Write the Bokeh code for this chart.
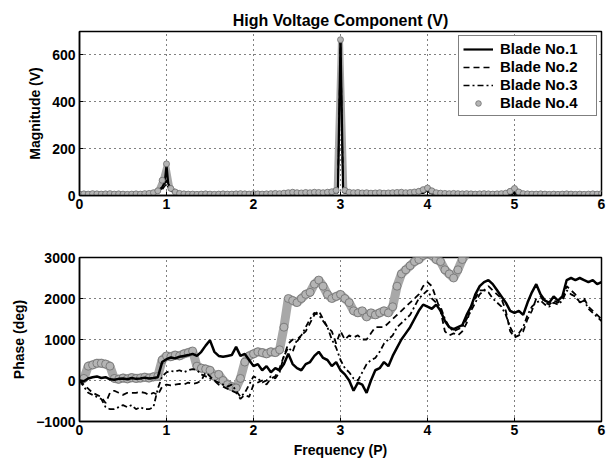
import numpy as np
from bokeh.plotting import figure
from bokeh.layouts import column
from bokeh.models import Range1d, FixedTicker, Label
from bokeh.embed import file_html
from bokeh.resources import INLINE

nan = float("nan")

# ---------------- data ----------------
x_ticks = [0, 1, 2, 3, 4, 5, 6]
mag_ticks = [0, 200, 400, 600]
phase_ticks = [-1000, 0, 1000, 2000, 3000]
series_names = ["Blade No.1", "Blade No.2", "Blade No.3", "Blade No.4"]

# magnitude, blades 1-3
freq_mag = [0.0, 0.1, 0.2, 0.3, 0.4, 0.5, 0.6, 0.7, 0.8, 0.85, 0.9, 0.95, 0.98, 1.0, 1.02, 1.05, 1.1, 1.15,
            1.2, 1.3, 1.4, 1.5, 1.6, 1.7, 1.8, 1.9, 2.0, 2.1, 2.2, 2.3, 2.4, 2.5, 2.6, 2.7, 2.8, 2.9,
            2.97, 3.0, 3.03, 3.1, 3.2, 3.3, 3.4, 3.5, 3.6, 3.7, 3.8, 3.9, 3.97, 4.0, 4.03,
            4.1, 4.2, 4.3, 4.4, 4.5, 4.6, 4.7, 4.8, 4.9, 4.97, 5.0, 5.03,
            5.1, 5.2, 5.3, 5.4, 5.5, 5.6, 5.7, 5.8, 5.9, 6.0]
mag_b1 = [5, 6, 7, 6, 5, 5, 6, 5, 8, 12, 20, 35, 55, 130, 50, 30, 15, 8,
          6, 5, 5, 6, 5, 5, 6, 7, 8, 6, 5, 6, 7, 8, 12, 10, 9, 11,
          15, 665, 15, 10, 9, 8, 10, 7, 8, 9, 10, 12, 15, 28, 12,
          8, 7, 6, 6, 7, 6, 5, 6, 5, 6, 12, 6,
          5, 4, 4, 5, 4, 4, 3, 4, 4, 5]
mag_b2 = [4, 5, 6, 5, 6, 4, 5, 6, 7, 10, 18, 30, 45, 65, 40, 25, 12, 7,
          5, 6, 4, 5, 6, 4, 5, 6, 7, 5, 6, 5, 6, 9, 10, 11, 8, 10,
          14, 660, 14, 9, 8, 9, 8, 8, 7, 8, 9, 10, 12, 20, 10,
          7, 6, 7, 5, 6, 5, 6, 5, 6, 5, 10, 5,
          4, 5, 4, 4, 5, 3, 4, 3, 4, 4]
mag_b3 = [3, 4, 5, 5, 4, 5, 4, 5, 6, 9, 15, 25, 40, 50, 35, 20, 10, 6,
          4, 5, 5, 4, 5, 5, 4, 5, 6, 6, 5, 4, 5, 7, 9, 9, 8, 9,
          12, 655, 12, 8, 7, 7, 9, 6, 7, 7, 8, 9, 11, 18, 9,
          6, 5, 6, 5, 5, 4, 5, 4, 5, 4, 9, 4,
          4, 3, 4, 3, 4, 3, 3, 3, 4, 3]
# magnitude, blade 4 (markers), sampled every 0.05 P
mag_b4 = [6, 7, 6, 8, 7, 6, 7, 8, 6, 7, 6, 5, 6, 7, 6, 8, 9,
          12, 20, 65, 135, 30, 15, 9,
          7, 6, 6, 5, 6, 7, 6, 5, 6, 7, 6, 6, 7, 8, 7, 6, 8, 7, 6, 7, 8, 9, 8, 10, 12, 14, 12, 11, 13, 12, 14, 13, 12, 14, 16,
          22, 665, 22, 14,
          12, 13, 11, 12, 10, 11, 12, 10, 11, 12, 13, 14, 12, 13, 15, 18,
          25, 32, 20, 12,
          10, 9, 8, 9, 8, 7, 8, 7, 6, 7, 8, 7, 6, 7, 8, 10,
          18, 30, 15, 8,
          7, 6, 6, 7, 6, 5, 6, 5, 6, 7, 6, 5, 6, 5, 6, 7, 6, 8]

# phase, all blades, sampled every 0.05 P
phase_b1 = [0, -20, 50, 80, 100, 60, 80, 30, 20, 40,
            50, 30, 60, 40, 50, 70, 50, 60, 80, 450,
            520, 560, 540, 580, 600, 620, 650, 600, 700, 850,
            980, 700, 600, 580, 600, 620, 820, 600, 650, 500,
            350, 400, 250, 350, 200, 300, 250, 400, 650, 400,
            300, 250, 400, 450, 600, 700, 550, 500, 350, 450,
            250, 150, 0, -250, -50, -100, -300, 0, 250, 300,
            450, 350, 600, 800, 1000, 1150, 1300, 1500, 1700, 1850,
            1800, 1750, 1850, 1700, 1450, 1300, 1250, 1300, 1350, 1600,
            1800, 2100, 2300, 2400, 2450, 2350, 2200, 2050, 1900, 1700,
            1650, 1700, 1600, 1900, 2150, 2350, 2100, 1950, 1900, 2050,
            1950, 2050, 2450, 2500, 2450, 2500, 2450, 2400, 2450, 2350,
            2400]
phase_b2 = [0, -100, -200, -300, -350, -400, -550, -300, -250, -300,
            -350, -300, -300, -300, -280, -300, -350, -300, -350, -150,
            -100, -120, -100, -80, -100, -50, -80, -60, 0, 200,
            100, 0, -100, -150, -200, -250, -300, -450, -350, -400,
            -100, -50, 0, -100, 50, 100, 300, 600, 900, 1000,
            950, 1100, 1200, 1400, 1600, 1700, 1500, 1300, 1200, 900,
            1200, 1000, 1100, 1050, 1100, 1000, 1000, 1150, 1300, 1300,
            1300, 1400, 1500, 1600, 1700, 1800, 1900, 2000, 2100, 2300,
            2400, 2300, 2000, 1700, 1200, 1100, 1150, 1100, 1200, 1400,
            1800, 2000, 2200, 2200, 2300, 2200, 2100, 2000, 1700, 1200,
            1050, 1100, 1200, 1500, 1700, 2000, 2050, 1900, 1850, 1950,
            1900, 2000, 2300, 2200, 2100, 1900, 2000, 1800, 1700, 1600,
            1500]
phase_b3 = [0, -150, -300, -350, -400, -450, -650, -700, -700, -650,
            -600, -650, -600, -700, -650, -700, -700, -650, -200, 100,
            200, 230, 220, 250, 200, 250, 280, 250, 150, 100,
            50, 0, -50, -100, -150, -100, -250, -400, -300, -100,
            100, 50, -50, 0, 100, 50, 200, 600, 800, 700,
            1000, 1100, 1300, 1500, 1650, 1600, 1450, 1300, 1000, 800,
            500, 300, 200, 50, 0, 200, 400, 500, 550, 700,
            900, 1000, 1100, 1300, 1400, 1500, 1600, 1800, 2000, 2100,
            2200, 2000, 1900, 1800, 1500, 1300, 1200, 1250, 1300, 1500,
            1700, 1900, 2100, 2200, 2150, 2000, 1900, 1800, 1600, 1300,
            1100, 1150, 1300, 1600, 1800, 1900, 1950, 1850, 1800, 1900,
            1850, 1950, 2200, 2100, 2050, 1900, 1950, 1750, 1650, 1550,
            1450]
phase_b4 = [0, 50, 350, 380, 420, 420, 400, 350, 50, 30,
            60, 40, 70, 50, 60, 80, 60, 90, 100, 500,
            600, 580, 620, 600, 650, 680, 720, 350, 300, 280,
            250, 100, 150, 0, -100, -150, -180, 50, 450, 600,
            650, 700, 680, 650, 700, 680, 750, 1300, 2000, 1950,
            1900, 2000, 2100, 2150, 2350, 2450, 2300, 2100, 2000, 2050,
            2100, 2000, 1900, 1700, 1650, 1700, 1550, 1650, 1600, 1650,
            1700, 1650, 1800, 2300, 2600, 2700, 2800, 2900, 2950, 3050,
            3100, 3050, 2950, 2900, 2700, 2600, 2500, 2700, 2950, 3100,
            nan, nan, nan, nan, nan, nan, nan, nan, nan, nan,
            nan, nan, nan, nan, nan, nan, nan, nan, nan, nan,
            nan, nan, nan, nan, nan, nan, nan, nan, nan, nan,
            nan]

freq_grid = np.round(np.linspace(0, 6, 121), 2)
freq_mag4 = np.round(np.linspace(0, 6, 121), 2)

# ---------------- styling helpers ----------------
FONT = "Liberation Sans"
GRAY_FILL = "#b4b4b4"
GRAY_BAND = "#a8a8a8"
GRAY_LINE = "#6e6e6e"


def style(p, yticks):
    p.outline_line_color = "black"
    p.outline_line_width = 1.5
    for ax in (p.xaxis[0], p.yaxis[0]):
        ax.axis_line_color = "black"
        ax.axis_line_width = 1.5
        ax.major_tick_in = 4
        ax.major_tick_out = 0
        ax.minor_tick_in = 0
        ax.minor_tick_out = 0
        ax.major_tick_line_color = "black"
        ax.major_label_text_font = FONT
        ax.major_label_text_font_style = "bold"
        ax.major_label_text_font_size = "14px"
        ax.major_label_text_color = "black"
        ax.axis_label_text_font = FONT
        ax.axis_label_text_font_style = "bold"
        ax.axis_label_text_font_size = "14px"
        ax.axis_label_text_color = "black"
    p.xaxis[0].ticker = FixedTicker(ticks=x_ticks)
    p.yaxis[0].ticker = FixedTicker(ticks=yticks)
    p.xaxis[0].major_label_standoff = 3
    p.yaxis[0].major_label_standoff = 4
    p.yaxis[0].axis_label_standoff = 6
    p.xaxis[0].axis_label_standoff = 4
    p.xgrid[0].ticker = FixedTicker(ticks=x_ticks)
    p.ygrid[0].ticker = FixedTicker(ticks=yticks)
    for g in (p.xgrid[0], p.ygrid[0]):
        g.grid_line_color = "black"
        g.grid_line_dash = "1 4"
        g.grid_line_width = 1
    p.background_fill_color = "white"
    p.border_fill_color = "white"


# ---------------- top: magnitude ----------------
p1 = figure(width=609, height=230, x_range=Range1d(0, 6), y_range=Range1d(0, 700),
            output_backend="svg", toolbar_location=None,
            min_border_left=79, min_border_right=8, min_border_top=31, min_border_bottom=35,
            title="High Voltage Component (V)")
p1.title.align = "center"
p1.title.text_font = FONT
p1.title.text_font_style = "bold"
p1.title.text_font_size = "16px"
p1.title.text_color = "black"
p1.title.standoff = 6
style(p1, mag_ticks)
p1.yaxis[0].axis_label = "Magnitude (V)"

p1.line(freq_mag4, mag_b4, line_color=GRAY_BAND, line_width=5)
p1.line(freq_mag, mag_b3, line_color="black", line_width=1.5, line_dash="6 3 2 3", legend_label=series_names[2])
p1.line(freq_mag, mag_b2, line_color="black", line_width=1.5, line_dash="6 4", legend_label=series_names[1])
p1.line(freq_mag, mag_b1, line_color="black", line_width=2.2, legend_label=series_names[0])
p1.scatter(freq_mag4, mag_b4, marker="circle", size=6, fill_color=GRAY_FILL, line_color=GRAY_LINE,
           line_width=0.8, legend_label=series_names[3])

items = p1.legend[0].items
order = {n: i for i, n in enumerate(series_names)}
p1.legend[0].items = sorted(items, key=lambda it: order[it.label.value])
lg = p1.legend[0]
lg.location = "top_right"
lg.margin = 4
lg.padding = 4
lg.spacing = 1
lg.glyph_width = 30
lg.glyph_height = 14
lg.label_height = 14
lg.label_width = 92
lg.label_standoff = 7
lg.label_text_font = FONT
lg.label_text_font_style = "bold"
lg.label_text_font_size = "15px"
lg.label_text_color = "black"
lg.border_line_color = "black"
lg.border_line_width = 1
lg.background_fill_color = "white"
lg.background_fill_alpha = 1.0

p1.add_layout(Label(x=-27, y=-4, x_units="screen", y_units="screen", text="June",
                    text_font=FONT, text_font_size="8px", text_baseline="top",
                    text_align="left", text_color="black", level="overlay"))

# ---------------- bottom: phase ----------------
p2 = figure(width=609, height=231, x_range=Range1d(0, 6), y_range=Range1d(-1000, 3000),
            output_backend="svg", toolbar_location=None,
            min_border_left=79, min_border_right=8, min_border_top=27, min_border_bottom=40)
style(p2, phase_ticks)
p2.yaxis[0].axis_label = "Phase (deg)"
p2.xaxis[0].axis_label = "Frequency (P)"

p2.line(freq_grid, phase_b4, line_color=GRAY_BAND, line_width=9)
p2.scatter(freq_grid, phase_b4, marker="circle", size=8, fill_color=GRAY_FILL, line_color=GRAY_LINE,
           line_width=0.8)
p2.line(freq_grid, phase_b3, line_color="black", line_width=1.8, line_dash="6 3 2 3")
p2.line(freq_grid, phase_b2, line_color="black", line_width=1.8, line_dash="6 4")
p2.line(freq_grid, phase_b1, line_color="black", line_width=2.5)

layout = column(p1, p2)
open("out.html", "w").write(file_html(layout, INLINE))
